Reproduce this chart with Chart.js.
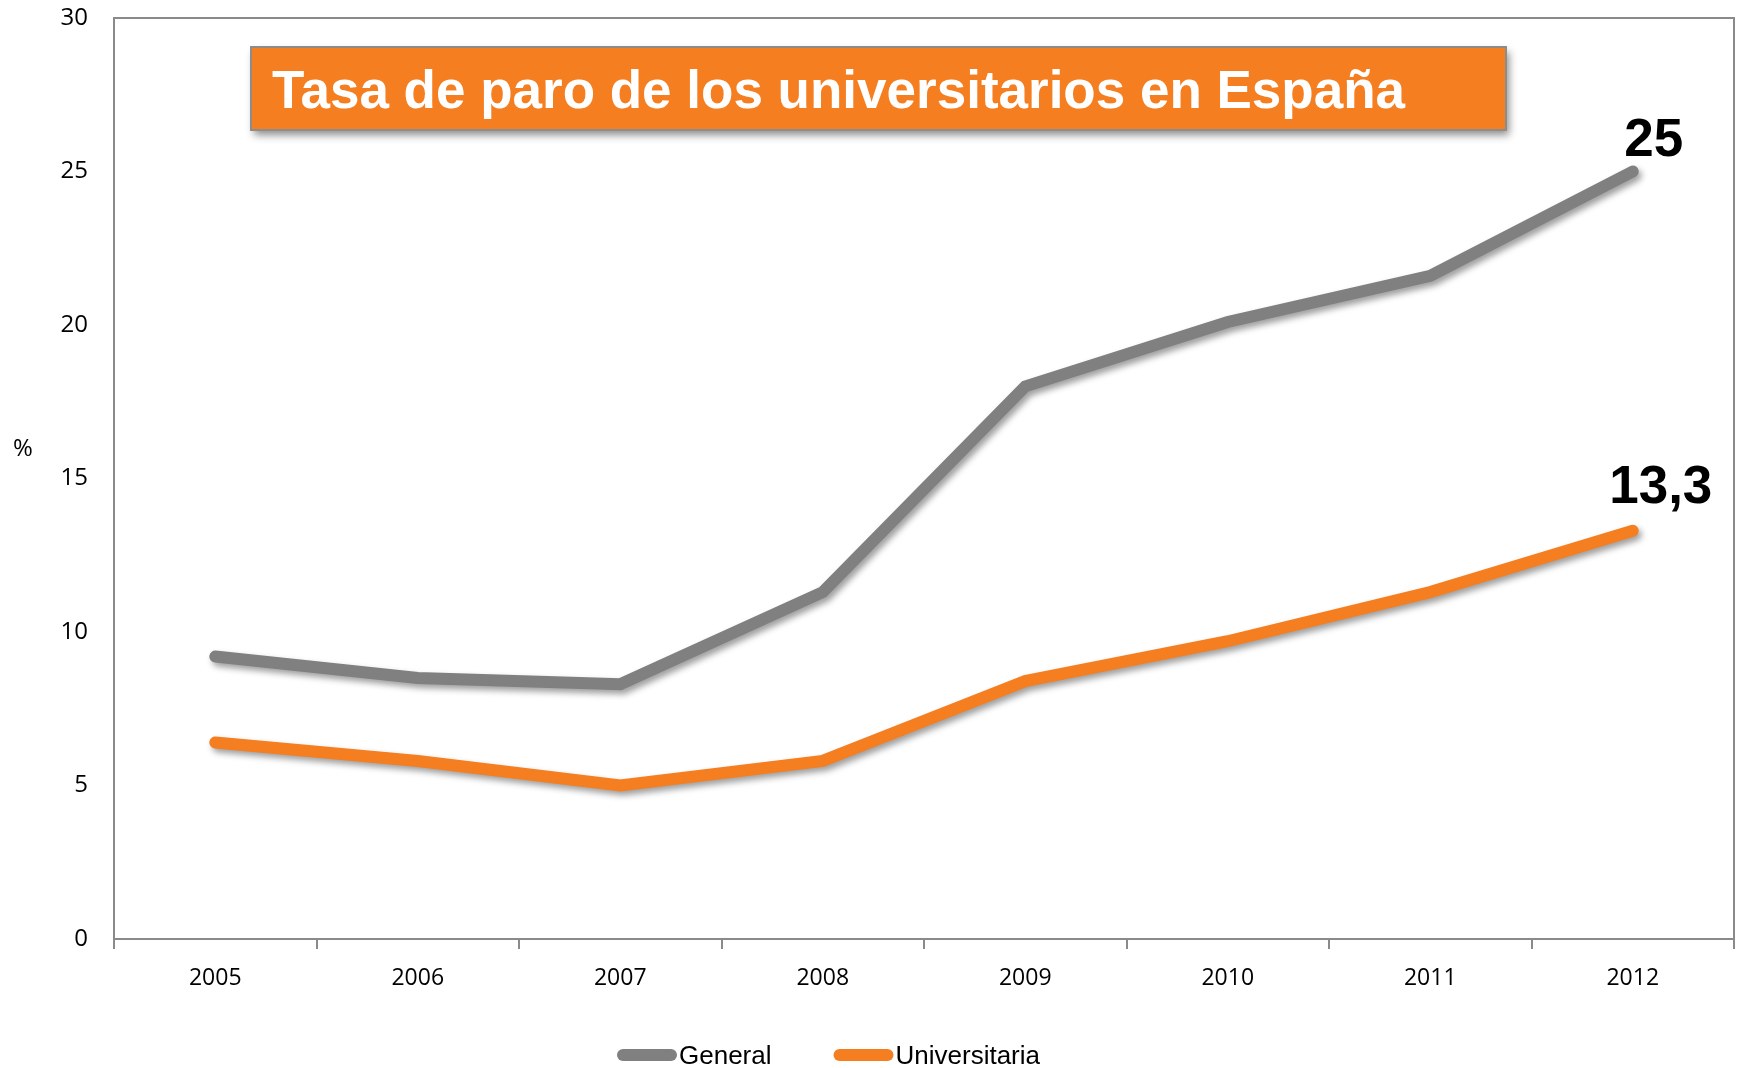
<!DOCTYPE html>
<html>
<head>
<meta charset="utf-8">
<script src="https://cdn.jsdelivr.net/npm/chart.js@4.4.1/dist/chart.umd.min.js"></script>
<style>
  html, body { margin: 0; padding: 0; background: #ffffff; }
  canvas { display: block; }
</style>
</head>
<body>
<canvas id="c" width="1743" height="1068"></canvas>
<script>
// ---- data ----
const years = ['2005', '2006', '2007', '2008', '2009', '2010', '2011', '2012'];
const general = [9.2, 8.5, 8.3, 11.3, 18.0, 20.1, 21.6, 25.0];
const universitaria = [6.4, 5.8, 5.0, 5.8, 8.4, 9.7, 11.3, 13.3];
const seriesNames = ['General', 'Universitaria'];
const titleText = 'Tasa de paro de los universitarios en España';
const yAxisLabel = '%';

const GRAY = '#808080';
const ORANGE = '#F47E20';
const AXIS = '#8a8a8a';

const lineShadow = {
  id: 'lineShadow',
  beforeDatasetDraw(chart) {
    const ctx = chart.ctx;
    ctx.save();
    ctx.shadowColor = 'rgba(0,0,0,0.38)';
    ctx.shadowBlur = 6;
    ctx.shadowOffsetX = 3;
    ctx.shadowOffsetY = 4;
  },
  afterDatasetDraw(chart) { chart.ctx.restore(); }
};

const frame = {
  id: 'frame',
  beforeDatasetsDraw(chart) {
    const {ctx, chartArea: a} = chart;
    ctx.save();
    ctx.strokeStyle = AXIS;
    ctx.lineWidth = 2;
    ctx.beginPath();
    ctx.moveTo(a.left, a.top);
    ctx.lineTo(a.right, a.top);
    ctx.lineTo(a.right, a.bottom);
    ctx.stroke();
    ctx.restore();
  }
};

const extras = {
  id: 'extras',
  afterDraw(chart) {
    const ctx = chart.ctx;
    // title box
    ctx.save();
    ctx.shadowColor = 'rgba(0,0,0,0.45)';
    ctx.shadowBlur = 8;
    ctx.shadowOffsetX = 3;
    ctx.shadowOffsetY = 5;
    ctx.fillStyle = ORANGE;
    ctx.fillRect(251, 47, 1255, 83);
    ctx.restore();
    ctx.save();
    ctx.strokeStyle = '#8c8c8c';
    ctx.lineWidth = 2;
    ctx.strokeRect(251, 47, 1255, 83);
    ctx.fillStyle = '#ffffff';
    ctx.font = 'bold 53px "Liberation Sans", Arial, sans-serif';
    ctx.textAlign = 'left';
    ctx.textBaseline = 'alphabetic';
    ctx.fillText(titleText, 272, 108);
    ctx.restore();

    // y axis label
    ctx.save();
    ctx.fillStyle = '#000';
    ctx.font = '24px "Open Sans", sans-serif';
    ctx.textAlign = 'center';
    ctx.textBaseline = 'middle';
    ctx.fillText(yAxisLabel, 23, 449);
    ctx.restore();

    // end-value labels
    const offs = [[21, -16], [28, -28]];
    ctx.save();
    ctx.fillStyle = '#000';
    ctx.font = 'bold 53px "Liberation Sans", Arial, sans-serif';
    ctx.textAlign = 'center';
    ctx.textBaseline = 'alphabetic';
    chart.data.datasets.forEach((ds, i) => {
      const meta = chart.getDatasetMeta(i);
      const last = meta.data.length - 1;
      const pt = meta.data[last];
      const txt = String(ds.data[last]).replace('.', ',');
      ctx.fillText(txt, pt.x + offs[i][0], pt.y + offs[i][1]);
    });
    ctx.restore();

    // legend
    ctx.save();
    ctx.font = '26px "Liberation Sans", Arial, sans-serif';
    ctx.textBaseline = 'alphabetic';
    ctx.textAlign = 'left';
    let x = 617;
    const yc = 1055;
    chart.data.datasets.forEach((ds) => {
      ctx.strokeStyle = ds.borderColor;
      ctx.lineWidth = 12;
      ctx.lineCap = 'round';
      ctx.beginPath();
      ctx.moveTo(x + 6, yc);
      ctx.lineTo(x + 54, yc);
      ctx.stroke();
      ctx.fillStyle = '#000';
      ctx.fillText(ds.label, x + 62, yc + 9);
      x += 62 + ctx.measureText(ds.label).width + 62;
    });
    ctx.restore();
  }
};

new Chart(document.getElementById('c'), {
  type: 'line',
  data: {
    labels: years,
    datasets: [
      { label: seriesNames[0], data: general, borderColor: GRAY, backgroundColor: GRAY,
        borderWidth: 12, pointRadius: 0, tension: 0, borderCapStyle: 'round', borderJoinStyle: 'miter' },
      { label: seriesNames[1], data: universitaria, borderColor: ORANGE, backgroundColor: ORANGE,
        borderWidth: 12, pointRadius: 0, tension: 0, borderCapStyle: 'round', borderJoinStyle: 'miter' }
    ]
  },
  options: {
    responsive: false,
    animation: false,
    devicePixelRatio: 1,
    layout: { padding: { left: 0, top: 18, right: 9, bottom: 0 } },
    plugins: { legend: { display: false }, tooltip: { enabled: false }, title: { display: false } },
    scales: {
      x: {
        offset: true,
        grid: { offset: true, drawOnChartArea: false, drawTicks: true, tickLength: 10, color: AXIS, lineWidth: 2 },
        border: { display: true, color: AXIS, width: 2 },
        ticks: { color: '#000', font: { family: '"Open Sans", sans-serif', size: 23 }, padding: 16, maxRotation: 0 },
        afterFit(scale) { scale.height = 129; scale.paddingLeft = 0; scale.paddingRight = 0; }
      },
      y: {
        min: 0, max: 30,
        grid: { drawOnChartArea: false, drawTicks: false },
        border: { display: true, color: AXIS, width: 2 },
        ticks: { stepSize: 5, color: '#000', font: { family: '"Open Sans", sans-serif', size: 24 }, padding: 26 },
        afterFit(scale) { scale.width = 114; scale.paddingTop = 0; scale.paddingBottom = 0; }
      }
    }
  },
  plugins: [lineShadow, frame, extras]
});
</script>
</body>
</html>
